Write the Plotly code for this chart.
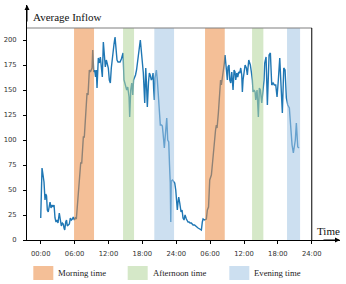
import plotly.graph_objects as go

# ---- data ----
time_h = [0.00, 0.23, 0.41, 0.58, 0.76, 0.89, 1.03, 1.17, 1.33, 1.51, 1.65, 1.82, 2.00, 2.18, 2.36,
          2.53, 2.71, 2.89, 3.06, 3.29, 3.47, 3.65, 3.83, 4.00, 4.13, 4.25, 4.43, 4.57, 4.71, 4.89,
          5.07, 5.24, 5.42, 5.60, 5.77, 5.95, 6.13, 6.31, 6.43, 6.61, 6.73, 6.91, 7.08, 7.26, 7.40,
          7.55, 7.72, 7.90, 8.02, 8.20, 8.38, 8.61, 8.79, 8.96, 9.09, 9.21, 9.39, 9.56, 9.71, 9.85,
          9.97, 10.20, 10.38, 10.56, 10.73, 10.91, 11.09, 11.26, 11.44, 11.62, 11.80, 11.97, 12.15,
          12.33, 12.50, 12.63, 12.81, 12.98, 13.16, 13.34, 13.51, 13.69, 13.87, 14.05, 14.28, 14.45,
          14.58, 14.75, 14.93, 15.06, 15.23, 15.41, 15.55, 15.64, 15.76, 15.94, 16.12, 16.30, 16.44,
          16.61, 16.79, 16.97, 17.11, 17.29, 17.46, 17.64, 17.80, 17.94, 18.17, 18.42, 18.60, 18.74,
          18.88, 19.09, 19.24, 19.39, 19.59, 19.77, 19.89, 20.01, 20.12, 20.24, 20.48, 20.65, 20.86,
          21.04, 21.18, 21.40, 21.54, 21.66, 21.89, 22.14, 22.32, 22.49, 22.67, 22.81, 22.94, 23.03,
          23.11, 23.34, 23.56, 23.73, 23.91, 24.09, 24.19, 24.32, 24.44, 24.62, 24.85, 25.03, 25.20,
          25.38, 25.56, 25.79, 25.95, 26.09, 26.27, 26.44, 26.67, 26.98, 27.24, 27.56, 27.86, 28.16,
          28.45, 28.62, 28.75, 29.01, 29.33, 29.51, 29.72, 29.93, 30.22, 30.39, 30.52, 30.69, 30.82,
          30.96, 31.10, 31.23, 31.46, 31.70, 31.85, 31.99, 32.17, 32.34, 32.52, 32.64, 32.77, 32.91,
          33.05, 33.17, 33.35, 33.48, 33.65, 33.83, 33.97, 34.06, 34.24, 34.41, 34.54, 34.72, 34.89,
          35.07, 35.25, 35.42, 35.60, 35.71, 35.83, 35.96, 36.19, 36.42, 36.59, 36.84, 37.02, 37.12,
          37.30, 37.48, 37.60, 37.78, 37.96, 38.08, 38.31, 38.54, 38.72, 38.90, 39.14, 39.37, 39.55,
          39.67, 39.91, 40.14, 40.31, 40.44, 40.67, 40.91, 41.15, 41.38, 41.62, 41.85, 42.08, 42.33,
          42.51, 42.62, 42.79, 43.04, 43.27, 43.50, 43.75, 44.03, 44.28, 44.51, 44.74, 44.95, 45.09,
          45.27, 45.52, 45.75]

inflow = [22, 72, 65, 58, 40, 46, 44, 30, 28, 34, 38, 32, 35, 33, 35,
          22, 18, 20, 17, 27, 18, 14, 17, 16, 12, 10, 18, 20, 14, 15,
          16, 22, 20, 21, 23, 20, 22, 21, 30, 40, 50, 65, 77, 77, 90,
          103, 103, 118, 127, 147, 145, 170, 168, 170, 172, 190, 168, 170, 163, 170,
          152, 182, 177, 183, 173, 163, 198, 183, 173, 180, 177, 172, 160,
          157, 172, 180, 190, 196, 203, 193, 180, 178, 178, 178, 181, 185,
          187, 160, 157, 155, 150, 153, 147, 143, 123, 150, 157, 145, 160,
          162, 165, 170, 178, 185, 192, 200, 190, 185, 167, 137, 172, 155,
          133, 158, 167, 165, 160, 162, 167, 150, 140, 162, 170, 160, 137,
          125, 115, 115, 114, 107, 92, 110, 122, 100, 98, 75, 57, 18,
          59, 60, 58, 57, 50, 40, 30, 38, 43, 37, 28, 30, 22,
          20, 25, 21, 19, 18, 18, 17, 17, 15, 15, 13, 12, 11,
          10, 18, 21, 20, 21, 30, 33, 60, 65, 75, 85, 93, 98,
          110, 115, 112, 127, 152, 160, 155, 162, 167, 177, 185, 178, 170,
          160, 173, 175, 160, 157, 168, 160, 150, 170, 168, 160, 167, 163,
          168, 167, 172, 165, 148, 160, 168, 175, 172, 165, 180, 177, 175,
          168, 160, 148, 150, 148, 140, 150, 123, 152, 150, 137, 150, 160,
          177, 183, 135, 175, 185, 187, 155, 157, 155, 155, 143, 160, 182,
          160, 147, 127, 172, 170, 142, 135, 132, 107, 95, 87, 95, 100,
          117, 93, 92]

band_start = [5.90, 14.58, 20.12, 29.10, 37.43, 43.62]
band_end = [9.44, 16.53, 23.61, 32.59, 39.43, 45.93]
band_kind = ["Morning time", "Afternoon time", "Evening time",
             "Morning time", "Afternoon time", "Evening time"]

legend_names = ["Morning time", "Afternoon time", "Evening time"]
band_colors = {"Morning time": (235, 138, 66),
               "Afternoon time": (179, 213, 155),
               "Evening time": (163, 197, 228)}
band_alpha = 0.55

tick_vals = [0, 6, 12, 18, 24, 30, 36, 42, 48]
tick_text = ["00:00", "06:00", "12:00", "18:00", "24:00", "06:00", "12:00", "18:00", "24:00"]
y_ticks = [0, 25, 50, 75, 100, 125, 150, 175, 200]

# ---- figure ----
fig = go.Figure()
fig.add_trace(go.Scatter(x=time_h, y=inflow, mode="lines",
                         line=dict(color="#1f77b4", width=1.4), showlegend=False,
                         hoverinfo="skip"))

def rgba(c, a):
    return "rgba(%d,%d,%d,%.2f)" % (c[0], c[1], c[2], a)

shapes = []
for s, e, k in zip(band_start, band_end, band_kind):
    shapes.append(dict(type="rect", xref="x", yref="y", x0=s, x1=e, y0=0, y1=212,
                       fillcolor=rgba(band_colors[k], band_alpha), line=dict(width=0),
                       layer="above"))
# frame lines
shapes.append(dict(type="line", xref="paper", yref="y", x0=0, x1=(312 - 27) / 313, y0=212, y1=212,
                   line=dict(color="#7f7f7f", width=1), layer="above"))
shapes.append(dict(type="line", xref="x", yref="y", x0=48, x1=48, y0=0, y1=212,
                   line=dict(color="black", width=1), layer="above"))

# legend boxes
legend_x = [(33.3 - 27) / 313, (127.7 - 27) / 313, (229.3 - 27) / 313]
box_w = 20 / 313
for lx, name in zip(legend_x, legend_names):
    shapes.append(dict(type="rect", xref="paper", yref="paper", x0=lx, x1=lx + box_w,
                       y0=(240 - 280) / 235, y1=(240 - 266) / 235,
                       fillcolor=rgba(band_colors[name], band_alpha), line=dict(width=0)))

annotations = []
for lx, name in zip(legend_x, legend_names):
    annotations.append(dict(xref="paper", yref="paper", x=lx + box_w + 3 / 313,
                            y=(240 - 273.3) / 235, text=name, showarrow=False,
                            xanchor="left", yanchor="middle",
                            font=dict(family="Liberation Serif", size=8.7, color="#222")))
annotations.append(dict(xref="paper", yref="paper", x=(31 - 27) / 313, y=(240 - 16.5) / 235,
                        text="Average Inflow", showarrow=False, xanchor="left", yanchor="middle",
                        font=dict(family="Liberation Serif", size=11, color="#111")))
annotations.append(dict(xref="paper", yref="paper", x=(315 - 27) / 313, y=(240 - 231) / 235,
                        text="Time", showarrow=False, xanchor="left", yanchor="middle",
                        font=dict(family="Liberation Serif", size=11, color="#111")))
# axis arrows
annotations.append(dict(xref="paper", yref="paper", x=0, y=1, ax=0, ay=18, text="",
                        showarrow=True, arrowhead=2, arrowsize=1, arrowwidth=1, arrowcolor="black"))
annotations.append(dict(xref="paper", yref="paper", x=1, y=0, ax=-18, ay=0, text="",
                        showarrow=True, arrowhead=2, arrowsize=1, arrowwidth=1, arrowcolor="black"))

tick_font = dict(family="DejaVu Sans", size=6.8, color="#333")
fig.update_layout(
    width=346, height=284,
    margin=dict(l=27, r=6, t=5, b=44),
    paper_bgcolor="white", plot_bgcolor="white",
    shapes=shapes, annotations=annotations,
    showlegend=False,
    xaxis=dict(range=[-2.43, 53.0], tickmode="array", tickvals=tick_vals, ticktext=tick_text,
               showgrid=False, zeroline=False, showline=True, linecolor="black", linewidth=1,
               ticks="outside", ticklen=3, tickcolor="black", tickfont=tick_font,
               ticklabelstandoff=4, fixedrange=True),
    yaxis=dict(range=[0, 235], tickmode="array", tickvals=y_ticks,
               showgrid=False, zeroline=False, showline=True, linecolor="black", linewidth=1,
               ticks="outside", ticklen=3, tickcolor="black", tickfont=tick_font,
               ticklabelstandoff=5, fixedrange=True),
)

fig.write_html("out.html", config={"displayModeBar": False},
               post_script="document.body.style.margin='0px';document.body.style.overflow='hidden';")
